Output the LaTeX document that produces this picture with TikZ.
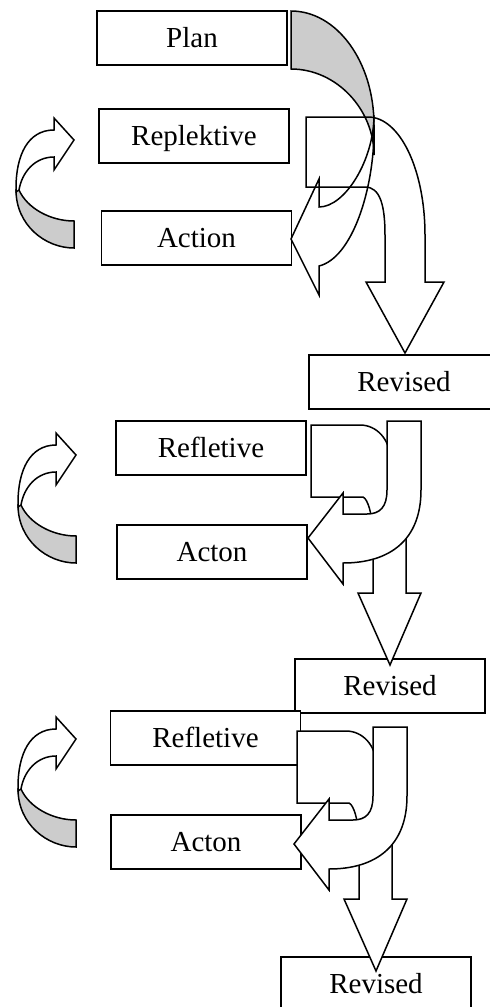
\documentclass[tikz,border=0pt]{standalone}
\usepackage{fontspec}
\setmainfont{Liberation Serif}
\definecolor{backgray}{RGB}{204, 204, 204}

\begin{document}
\begin{tikzpicture}[x=1pt, y=-1pt,
        box/.style={draw, fill=white, line width=1.5pt, minimum width=190pt, minimum height=54pt, inner sep=0pt, text height=19pt, text depth=0pt, font=\fontsize{29}{34}\selectfont},
        outl/.style={draw, line width=1.5pt, line join=miter},
        back/.style={outl, fill=backgray},
        front/.style={outl, fill=white}
      ]
        \useasboundingbox (0,0) rectangle (490,1007);
        \node[box] (plan)  at (192,38)    {Plan};
        \node[box] (refl1) at (194,136)   {Replektive};
        \node[box] (act1)  at (196.5,238) {Action};
        \node[box] (rev1)  at (404,382)   {Revised};
        \node[box] (refl2) at (211,448)   {Refletive};
        \node[box] (act2)  at (212,552)   {Acton};
        \node[box] (rev2)  at (390,686)   {Revised};
        \node[box] (refl3) at (205.5,738) {Refletive};
        \node[box] (act3)  at (206,842)   {Acton};
        \node[box] (rev3)  at (376,984)   {Revised};
        % turning arrows on the left
        \foreach \dx/\dy in {0/0, 2/315, 2/599} {
          \begin{scope}[shift={(\dx,\dy)}]
            \path[back] (16,190) .. controls (16,225) and (45,248) .. (74,248) -- (74,221) .. controls (50,221) and (27,208) .. (19,190) -- cycle;
            \path[front] (16,192) -- (16,188) .. controls (16,155) and (28,130) .. (54,130) -- (54,118) -- (74,140) -- (54,170) -- (54,157) .. controls (35,157) and (22,172) .. (19,190) -- cycle;
          \end{scope}
        }
        % first loop
        \path[back] (291,11) .. controls (337,11) and (374,62) .. (374,125) -- (374,155) .. controls (374,110) and (337,69) .. (291,69) -- cycle;
        \draw[outl] (374,115) .. controls (374,160) and (345,207) .. (319,207) -- (319,179) -- (291,239) -- (319,295) -- (319,266) .. controls (352,258) and (374,190) .. (374,130) -- (374,125);
        \draw[outl] (306,117) -- (368,117) .. controls (400,117) and (425,170) .. (425,235) -- (425,282) -- (444,282) -- (405,353) -- (366,282) -- (385,282) -- (385,235) .. controls (385,205) and (380,187) .. (365,187) -- (306,187) -- cycle;
        % second and third loop
        \foreach \dx/\dy in {0/0, -14/306} {
          \begin{scope}[shift={(\dx,\dy)}]
            \path[front] (311,425) -- (360,425) .. controls (377,425) and (390,440) .. (390,458) .. controls (392,480) and (406,490) .. (406,515) -- (406,593) -- (421,593) -- (390,665) -- (358,593) -- (373,593) -- (373,530) .. controls (372,515) and (368,499) .. (363,497) -- (311,497) -- cycle;
            \path[front] (387,421) -- (421,421) -- (421,490) .. controls (421,540) and (390,563) .. (343,563) -- (343,584) -- (308,538) -- (343,493) -- (343,514) -- (367,514) .. controls (380,514) and (387,507) .. (387,490) -- cycle;
          \end{scope}
        }
\end{tikzpicture}
\end{document}
